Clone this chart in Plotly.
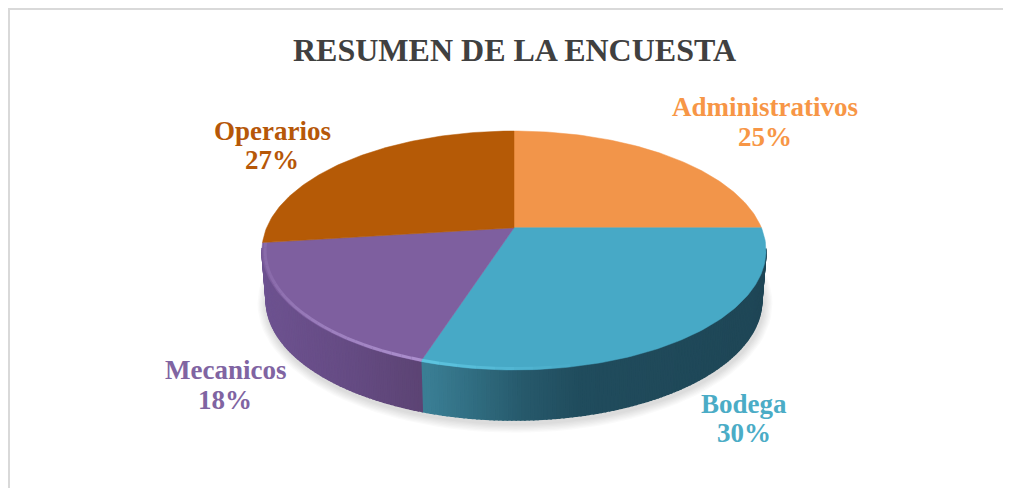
import math
import plotly.graph_objects as go

# ---- data ----
categories = ["Administrativos", "Bodega", "Mecanicos", "Operarios"]
percentages = [25, 30, 18, 27]
title_text = "RESUMEN DE LA ENCUESTA"

# ---- style ----
top_colors = ["#F2954A", "#47A9C6", "#7E5F9F", "#B55A06"]
label_colors = ["#F79646", "#4BACC6", "#8064A2", "#B65708"]
side_stops = [
    [],
    [(427, "#3A7E94"), (470, "#316E82"), (520, "#275A6C"), (580, "#204C5D"), (770, "#1F4656")],
    [(262, "#6D5290"), (350, "#654B83"), (427, "#5B4372")],
    [],
]
highlight = [None, "#63CBE6", "#B094D2", None]
label_xy = {
    "Administrativos": (765, 107, 137),
    "Bodega": (744, 404, 433),
    "Mecanicos": (225, 370, 400),
    "Operarios": (272, 131, 160),
}

# ---- projection of the pie disc to the page ----
CX, CY, RX, RY = 514.0, 250.5, 252.0, 119.5
A = 0.19             # perspective shift of the pie centre
DEPTH = 50.0
BOTTOM_RX = 0.983
S = math.sqrt(1 - A * A)
FONT = "Liberation Serif"


def rim(theta_deg, scale=1.0):
    t = math.radians(theta_deg)
    u, v = math.sin(t), math.cos(t)
    w = 1 + A * v
    x, y = RX * u * S / w, RY * (v + A) / w
    return CX + x * scale, CY - y * scale


def low_rim(theta_deg):
    x, y = rim(theta_deg)
    return CX + (x - CX) * BOTTOM_RX, y + DEPTH


def hex_rgb(c):
    return tuple(int(c[i:i + 2], 16) for i in (1, 3, 5))


def shade(stops, x):
    if x <= stops[0][0]:
        return stops[0][1]
    for (x0, c0), (x1, c1) in zip(stops, stops[1:]):
        if x <= x1:
            f = (x - x0) / (x1 - x0)
            a, b = hex_rgb(c0), hex_rgb(c1)
            return "#%02X%02X%02X" % tuple(round(p + (q - p) * f) for p, q in zip(a, b))
    return stops[-1][1]


fig = go.Figure()


def poly(xs, ys, color, opacity=1.0, lw=0.6):
    fig.add_trace(go.Scatter(
        x=xs, y=ys, mode="lines", fill="toself", fillcolor=color, opacity=opacity,
        line=dict(color=color, width=lw), hoverinfo="skip", showlegend=False))


# soft shadow
for i in range(7):
    grow = 2 + i * 1.3
    pts = [(CX + (RX * BOTTOM_RX + grow) * math.cos(math.radians(d)) + 1,
            CY + DEPTH + 3 + (RY + grow) * math.sin(math.radians(d))) for d in range(0, 361, 3)]
    poly([p[0] for p in pts], [p[1] for p in pts], "#000000", 0.018, 0)

# slice angles from the values
total = sum(percentages)
edges = [0.0]
for p in percentages:
    edges.append(edges[-1] + 360.0 * p / total)

# side wall strips
for i, (a0, a1) in enumerate(zip(edges, edges[1:])):
    if not side_stops[i]:
        continue
    n = max(8, int((a1 - a0) * 1.2))
    for k in range(n):
        t0 = a0 + (a1 - a0) * k / n
        t1 = a0 + (a1 - a0) * (k + 1) / n
        if rim(t0)[1] < CY - 1 and rim(t1)[1] < CY - 1:
            continue
        p0, p1 = rim(t0), rim(t1)
        q0, q1 = low_rim(t0), low_rim(t1)
        poly([p0[0], p1[0], q1[0], q0[0], p0[0]], [p0[1], p1[1], q1[1], q0[1], p0[1]],
             shade(side_stops[i], (p0[0] + p1[0]) / 2), 1.0, 1.6)

# top face
apex = (CX, CY - RY * A)
for i, (a0, a1) in enumerate(zip(edges, edges[1:])):
    n = int((a1 - a0)) + 2
    pts = [rim(a0 + (a1 - a0) * k / n) for k in range(n + 1)]
    xs = [apex[0]] + [p[0] for p in pts] + [apex[0]]
    ys = [apex[1]] + [p[1] for p in pts] + [apex[1]]
    poly(xs, ys, top_colors[i], 1.0, 0.5)

# bevel highlight along the front rim
for i, (a0, a1) in enumerate(zip(edges, edges[1:])):
    if highlight[i] is None:
        continue
    n = 30
    for k in range(n):
        t0 = a0 + (a1 - a0) * k / n
        t1 = a0 + (a1 - a0) * (k + 1) / n
        if i == 1:
            if t0 < 165:
                continue
            strength = 1 - (a1 - t0) / (a1 - 165)
        else:
            strength = max(0.25, 1 - k / n)
        p0, p1 = rim(t0, 0.988), rim(t1, 0.988)
        fig.add_trace(go.Scatter(
            x=[p0[0], p1[0]], y=[p0[1], p1[1]], mode="lines",
            opacity=min(1.0, max(0.0, 0.9 * strength)),
            line=dict(color=highlight[i], width=3), hoverinfo="skip", showlegend=False))

# labels
annotations = [dict(x=514, y=50, text="<b>%s</b>" % title_text, showarrow=False,
                    font=dict(family=FONT, size=32, color="#404040"))]
for name, val, col in zip(categories, percentages, label_colors):
    lx, y1, y2 = label_xy[name]
    annotations.append(dict(x=lx, y=y1, text="<b>%s</b>" % name, showarrow=False,
                            font=dict(family=FONT, size=27, color=col)))
    annotations.append(dict(x=lx, y=y2, text="<b>%d%%</b>" % val, showarrow=False,
                            font=dict(family=FONT, size=27, color=col)))

axis = dict(visible=False, fixedrange=True)
fig.update_layout(
    width=1003, height=480,
    margin=dict(l=0, r=0, t=0, b=0),
    paper_bgcolor="white", plot_bgcolor="white",
    showlegend=False,
    xaxis=dict(range=[8, 1011], **axis),
    yaxis=dict(range=[488, 8], **axis),
    annotations=annotations,
    shapes=[
        dict(type="line", xref="x", yref="y", x0=8, x1=1011, y0=9, y1=9,
             line=dict(color="#D9D9D9", width=2)),
        dict(type="line", xref="x", yref="y", x0=9, x1=9, y0=8, y1=488,
             line=dict(color="#D9D9D9", width=2)),
    ],
)
fig.write_html("out.html")
